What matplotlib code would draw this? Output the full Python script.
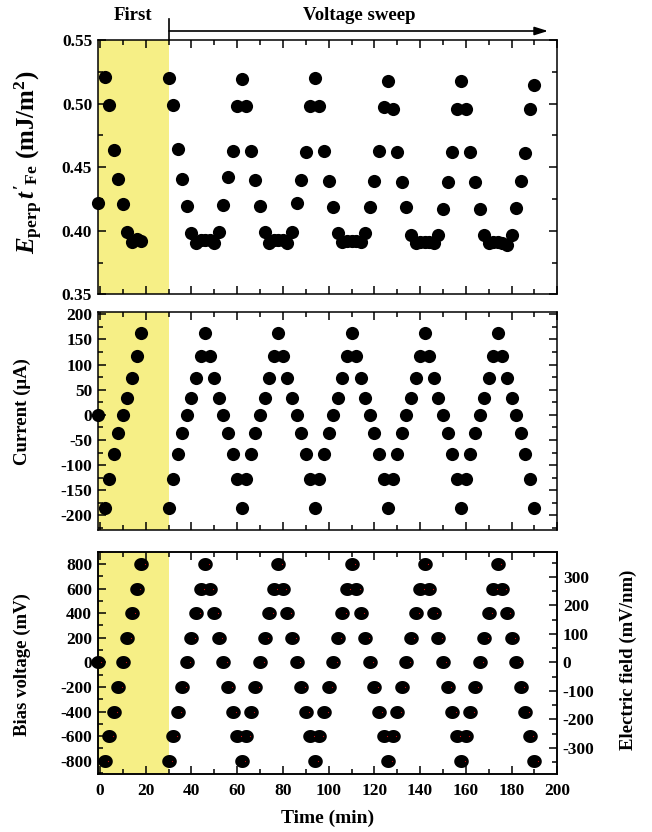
import matplotlib
matplotlib.use('Agg')
import matplotlib.pyplot as plt
from matplotlib.ticker import MultipleLocator, FormatStrFormatter
import matplotlib.transforms as mtransforms
import numpy as np

# ---------------- data ----------------
time_min = [-1, 2, 4, 6, 8, 10, 12, 14, 16, 18,
            30, 32, 34, 36, 38, 40, 42, 44, 46, 48, 50, 52, 54, 56, 58, 60,
            62, 64, 66, 68, 70, 72, 74, 76, 78, 80, 82, 84, 86, 88, 90, 92,
            94, 96, 98, 100, 102, 104, 106, 108, 110, 112, 114, 116, 118, 120, 122, 124,
            126, 128, 130, 132, 134, 136, 138, 140, 142, 144, 146, 148, 150, 152, 154, 156,
            158, 160, 162, 164, 166, 168, 170, 172, 174, 176, 178, 180, 182, 184, 186, 188,
            190]

energy = [0.422, 0.521, 0.499, 0.4635, 0.4405, 0.421, 0.399, 0.391, 0.3935, 0.392,
          0.520, 0.499, 0.464, 0.4405, 0.4195, 0.398, 0.390, 0.393, 0.393, 0.393, 0.390, 0.399, 0.4205, 0.442, 0.463, 0.498,
          0.519, 0.498, 0.463, 0.440, 0.4195, 0.399, 0.390, 0.393, 0.393, 0.393, 0.390, 0.399, 0.422, 0.440, 0.462, 0.498,
          0.520, 0.498, 0.463, 0.4395, 0.419, 0.398, 0.391, 0.392, 0.392, 0.392, 0.391, 0.398, 0.419, 0.4395, 0.463, 0.4975,
          0.518, 0.4955, 0.462, 0.4385, 0.419, 0.397, 0.390, 0.391, 0.391, 0.391, 0.390, 0.397, 0.417, 0.4385, 0.462, 0.4955,
          0.5175, 0.4955, 0.462, 0.438, 0.417, 0.397, 0.390, 0.391, 0.391, 0.390, 0.389, 0.397, 0.418, 0.439, 0.461, 0.4957,
          0.515]

current = [0, -185, -128, -77, -37, 0, 34, 74, 117, 163,
           -185, -128, -77, -37, 0, 34, 74, 117, 163, 117, 74, 34, 0, -37, -77, -128,
           -185, -128, -77, -37, 0, 34, 74, 117, 163, 117, 74, 34, 0, -37, -77, -128,
           -185, -128, -77, -37, 0, 34, 74, 117, 163, 117, 74, 34, 0, -37, -77, -128,
           -185, -128, -77, -37, 0, 34, 74, 117, 163, 117, 74, 34, 0, -37, -77, -128,
           -185, -128, -77, -37, 0, 34, 74, 117, 163, 117, 74, 34, 0, -37, -77, -128,
           -185]

voltage = [0, -800, -600, -400, -200, 0, 200, 400, 600, 800,
           -800, -600, -400, -200, 0, 200, 400, 600, 800, 600, 400, 200, 0, -200, -400, -600,
           -800, -600, -400, -200, 0, 200, 400, 600, 800, 600, 400, 200, 0, -200, -400, -600,
           -800, -600, -400, -200, 0, 200, 400, 600, 800, 600, 400, 200, 0, -200, -400, -600,
           -800, -600, -400, -200, 0, 200, 400, 600, 800, 600, 400, 200, 0, -200, -400, -600,
           -800, -600, -400, -200, 0, 200, 400, 600, 800, 600, 400, 200, 0, -200, -400, -600,
           -800]

first_span = [-1, 30]          # yellow "First" region (min)
mv_per_mv_per_nm = 2.32        # bias voltage / electric field ratio of the two axes

# ---------------- style ----------------
plt.rcParams['font.family'] = ['Liberation Serif', 'DejaVu Serif']
plt.rcParams['font.weight'] = 'bold'
plt.rcParams['axes.unicode_minus'] = False
plt.rcParams['mathtext.fontset'] = 'custom'
plt.rcParams['mathtext.rm'] = 'Liberation Serif:bold'
plt.rcParams['mathtext.it'] = 'Liberation Serif:italic:bold'
plt.rcParams['mathtext.bf'] = 'Liberation Serif:bold'
plt.rcParams['axes.linewidth'] = 1.1

W, H = 652, 832
fig = plt.figure(figsize=(W / 100, H / 100), dpi=100)


def axrect(l, t, r, b):
    return [l / W, 1 - b / H, (r - l) / W, (b - t) / H]


ax1 = fig.add_axes(axrect(97.7, 40, 557.3, 294.3))
ax2 = fig.add_axes(axrect(97.7, 311.7, 557.3, 529.5))
ax3 = fig.add_axes(axrect(97.7, 551.7, 557.3, 774.3))

yellow = '#F6EF86'
tick_fs = 12.5

for ax in (ax1, ax2, ax3):
    ax.axvspan(first_span[0], first_span[1], color=yellow, lw=0, zorder=0)
    ax.set_xlim(-1, 200)
    ax.xaxis.set_major_locator(MultipleLocator(20))
    ax.xaxis.set_minor_locator(MultipleLocator(10))
    ax.tick_params(which='both', direction='in', top=True, right=True,
                   labelsize=tick_fs, width=1.1, pad=4)
    ax.tick_params(axis='x', pad=6)
    ax.tick_params(which='major', length=6)
    ax.tick_params(which='minor', length=3.5)
    for lab in ax.get_xticklabels() + ax.get_yticklabels():
        lab.set_fontweight('bold')

# top panel
ax1.scatter(time_min, energy, s=90, c='k', linewidths=0, zorder=3, clip_on=False)
ax1.set_ylim(0.35, 0.55)
ax1.yaxis.set_major_locator(MultipleLocator(0.05))
ax1.yaxis.set_minor_locator(MultipleLocator(0.025))
ax1.yaxis.set_major_formatter(FormatStrFormatter('%.2f'))
ax1.tick_params(labelbottom=False)

# middle panel
ax2.scatter(time_min, current, s=90, c='k', linewidths=0, zorder=3, clip_on=False)
ax2.set_ylim(-228, 205)
ax2.yaxis.set_major_locator(MultipleLocator(50))
ax2.yaxis.set_minor_locator(MultipleLocator(25))
ax2.tick_params(labelbottom=False)

# bottom panel
theta = np.linspace(0, 2 * np.pi, 60)
ellipse = np.column_stack([1.12 * np.cos(theta), np.sin(theta)])
ax3.scatter(time_min, voltage, s=110, marker=ellipse, c='k', linewidths=0, zorder=3, clip_on=False)
red_tr = mtransforms.offset_copy(ax3.transData, fig=fig, x=3.5, y=0, units='dots')
ax3.scatter(time_min, voltage, s=0.8, c='#d01010', linewidths=0, zorder=4, transform=red_tr, clip_on=False)
ax3.set_ylim(-910, 900)
ax3.yaxis.set_major_locator(MultipleLocator(200))
ax3.yaxis.set_minor_locator(MultipleLocator(100))
ax3.tick_params(which='both', right=False)
ax3.set_xlabel('Time (min)', fontsize=14, fontweight='bold', labelpad=8)

ax3r = ax3.twinx()
ax3r.set_ylim(-910 / mv_per_mv_per_nm, 900 / mv_per_mv_per_nm)
ax3r.yaxis.set_major_locator(MultipleLocator(100))
ax3r.yaxis.set_minor_locator(MultipleLocator(50))
ax3r.tick_params(which='both', direction='in', labelsize=tick_fs, width=1.1, pad=4)
ax3r.tick_params(which='major', length=6)
ax3r.tick_params(which='minor', length=3.5)
for lab in ax3r.get_yticklabels():
    lab.set_fontweight('bold')

# axis labels
fig.text(29 / W, 1 - 162 / H, r"$E_{\mathrm{perp}}\,t^{\prime}{}_{\mathrm{Fe}}$ (mJ/m$^{2}$)",
         rotation=90, ha='center', va='center', fontsize=18, fontweight='bold')
fig.text(22 / W, 1 - 412 / H, 'Current (μA)', rotation=90, ha='center', va='center',
         fontsize=13.5, fontweight='bold')
fig.text(22 / W, 1 - 665 / H, 'Bias voltage (mV)', rotation=90, ha='center', va='center',
         fontsize=13.5, fontweight='bold')
fig.text(628 / W, 1 - 660 / H, 'Electric field (mV/nm)', rotation=90, ha='center', va='center',
         fontsize=13.5, fontweight='bold')

# header: First / Voltage sweep arrow
fig.text(133 / W, 1 - 15 / H, 'First', ha='center', va='center', fontsize=13.5, fontweight='bold')
fig.text(359 / W, 1 - 15 / H, 'Voltage sweep', ha='center', va='center', fontsize=13.5, fontweight='bold')
x0 = 169 / W
fig.add_artist(plt.Line2D([x0, x0], [1 - 40 / H, 1 - 19 / H], color='k', lw=1.2,
                          transform=fig.transFigure))
fig.add_artist(matplotlib.patches.FancyArrowPatch(
    (x0, 1 - 31 / H), (548 / W, 1 - 31 / H), transform=fig.transFigure,
    arrowstyle='-|>,head_length=8,head_width=2.5', color='k', lw=1.2,
    shrinkA=0, shrinkB=0, mutation_scale=1))

fig.savefig('out.png', dpi=100)
